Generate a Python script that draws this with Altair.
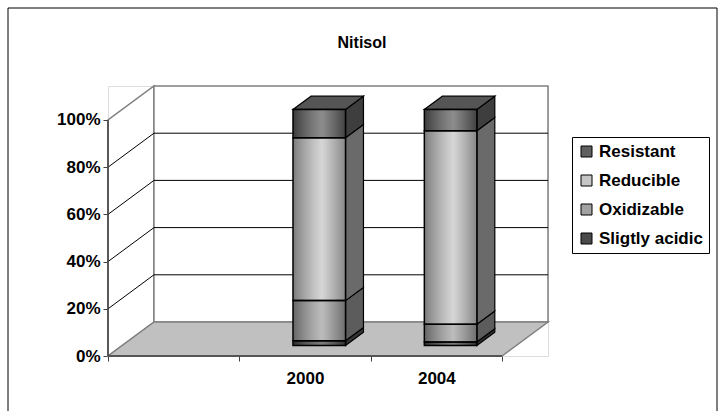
import altair as alt
import pandas as pd

# ---------------- data ----------------
title_text = "Nitisol"
slots = ["", "2000", "2004"]            # category slots on the x axis (first one empty)
years = ["2000", "2004"]
series_bottom_to_top = ["Sligtly acidic", "Oxidizable", "Reducible", "Resistant"]
sligtly_acidic = [2.0, 1.5]
oxidizable = [17.0, 7.5]
reducible = [69.0, 82.0]
resistant = [12.0, 9.0]
y_ticks = [0, 0.2, 0.4, 0.6, 0.8, 1.0]
legend_order = ["Resistant", "Reducible", "Oxidizable", "Sligtly acidic"]

# ---------------- style ----------------
FONT = "Liberation Sans"
front_colors = {"Resistant": "#606060", "Reducible": "#c6c6c6",
                "Oxidizable": "#a2a2a2", "Sligtly acidic": "#4a4a4a"}
side_colors = {"Resistant": "#3e3e3e", "Reducible": "#6a6a6a",
               "Oxidizable": "#5c5c5c", "Sligtly acidic": "#333333"}
top_colors = {"Resistant": "#555555", "Reducible": "#9a9a9a",
              "Oxidizable": "#777777", "Sligtly acidic": "#444444"}
DX, DY = 0.35, 0.144          # depth vector of the 3-D box (x units, y units)
BAR_L, BAR_R = 0.30, 0.70     # bar extent inside a slot
D_FRONT, D_BACK = 0.31, 0.70  # bar depth range
X_MAX = len(slots) + DX
Y_MAX = 1 + DY
W, H = 440, 270

vals = dict(zip(series_bottom_to_top, [sligtly_acidic, oxidizable, reducible, resistant]))

front, side, top = [], [], []
for j, yr in enumerate(years):
    i = slots.index(yr)
    total = sum(vals[s][j] for s in series_bottom_to_top)
    cum = 0.0
    for s in series_bottom_to_top:
        v = vals[s][j] / total
        y0, y1 = cum, cum + v
        cum = y1
        front.append(dict(series=s, x=i + BAR_L + DX * D_FRONT, x2=i + BAR_R + DX * D_FRONT,
                          y=y0 + DY * D_FRONT, y2=y1 + DY * D_FRONT))
        for d in (D_FRONT, D_BACK):
            side.append(dict(face=f"{yr}-{s}", col=side_colors[s], x=i + BAR_R + DX * d,
                             y=y0 + DY * d, y2=y1 + DY * d))
    s = series_bottom_to_top[-1]
    for d in (D_FRONT, D_BACK):
        top.append(dict(face=yr, col=top_colors[s], y=cum + DY * d,
                        x=i + BAR_L + DX * d, x2=i + BAR_R + DX * d))

front_df, side_df, top_df = pd.DataFrame(front), pd.DataFrame(side), pd.DataFrame(top)

n = len(slots)
side_wall = pd.DataFrame([dict(x=0, y=0, y2=1), dict(x=DX, y=DY, y2=1 + DY)])
back_wall = pd.DataFrame([dict(x=DX, x2=X_MAX, y=DY, y2=Y_MAX)])
floor = pd.DataFrame([dict(y=0, x=0, x2=n), dict(y=DY, x=DX, x2=X_MAX)])
grid = []
for v in y_ticks[1:-1]:
    grid.append(dict(x=0, x2=DX, y=v, y2=v + DY))
    grid.append(dict(x=DX, x2=X_MAX, y=v + DY, y2=v + DY))
grid_df = pd.DataFrame(grid)
edges_df = pd.DataFrame([dict(x=0, x2=0, y=0, y2=1), dict(x=0, x2=n, y=0, y2=0)])

# ---------------- scales / axes ----------------
xs = alt.Scale(domain=[0, X_MAX], nice=False, zero=False)
ys = alt.Scale(domain=[0, Y_MAX], nice=False, zero=False)
label_expr = " : ".join(f"datum.value == {k} ? '{lab}'" for k, lab in enumerate(slots) if lab) + " : ''"
x_axis = alt.Axis(values=list(range(n + 1)), domain=False, grid=False, tickSize=5,
                  tickColor="#404040", tickWidth=1, labelExpr=label_expr,
                  labelOffset=W / X_MAX / 2, labelFlush=False, labelOverlap=False,
                  labelFont=FONT, labelFontSize=17, labelFontWeight="bold",
                  labelColor="black", labelPadding=9, title=None)
y_axis = alt.Axis(values=y_ticks, format=".0%", domain=False, grid=False, tickSize=5,
                  tickColor="#404040", tickWidth=1, labelFont=FONT, labelFontSize=17,
                  labelFontWeight="bold", labelColor="black", labelPadding=3, title=None)


def X(f="x"):
    return alt.X(f"{f}:Q", scale=xs, axis=x_axis)


def Y(f="y"):
    return alt.Y(f"{f}:Q", scale=ys, axis=y_axis, stack=None)


side_wall_l = alt.Chart(side_wall).mark_area(fill="white", stroke="#808080", strokeWidth=1.5).encode(
    x=X(), y=Y(), y2="y2:Q")
back_wall_l = alt.Chart(back_wall).mark_rect(fill="white", stroke="#808080", strokeWidth=1.5).encode(
    x=X(), x2="x2:Q", y=Y(), y2="y2:Q")
floor_l = alt.Chart(floor).mark_area(orient="horizontal", fill="#c0c0c0", stroke="#808080",
                                     strokeWidth=1.5).encode(
    y=Y(), x=alt.X("x:Q", scale=xs, axis=x_axis, stack=None), x2="x2:Q")
grid_l = alt.Chart(grid_df).mark_rule(color="black", strokeWidth=1).encode(
    x=X(), x2="x2:Q", y=Y(), y2="y2:Q")
edges_l = alt.Chart(edges_df).mark_rule(color="#404040", strokeWidth=1.5).encode(
    x=X(), x2="x2:Q", y=Y(), y2="y2:Q")

side_l = alt.Chart(side_df).mark_area(stroke="black", strokeWidth=1.2).encode(
    x=X(), y=Y(), y2="y2:Q", detail="face:N", fill=alt.Fill("col:N", scale=None))
top_l = alt.Chart(top_df).mark_area(orient="horizontal", stroke="black", strokeWidth=1.2).encode(
    y=Y(), x=alt.X("x:Q", scale=xs, axis=x_axis, stack=None), x2="x2:Q", detail="face:N",
    fill=alt.Fill("col:N", scale=None))

front_l = alt.Chart(front_df).mark_rect().encode(
    x=X(), x2="x2:Q", y=Y(), y2="y2:Q",
    color=alt.Color("series:N",
                    scale=alt.Scale(domain=legend_order,
                                    range=[front_colors[s] for s in legend_order]),
                    legend=alt.Legend(orient="none", legendX=464, legendY=51, title=None,
                                      symbolType="square", symbolSize=121,
                                      symbolStrokeColor="black", symbolStrokeWidth=1,
                                      labelFont=FONT, labelFontSize=17, labelFontWeight="bold",
                                      labelColor="black", labelOffset=4, rowPadding=11,
                                      padding=6, strokeColor="black", fillColor="white",
                                      cornerRadius=0)))
shade = {"gradient": "linear", "x1": 0, "x2": 1, "y1": 0, "y2": 0,
         "stops": [{"offset": 0, "color": "rgba(0,0,0,0.38)"},
                   {"offset": 0.55, "color": "rgba(255,255,255,0.28)"},
                   {"offset": 1, "color": "rgba(0,0,0,0.32)"}]}
shade_l = alt.Chart(front_df).mark_rect(fill=shade, stroke="black", strokeWidth=1.5).encode(
    x=X(), x2="x2:Q", y=Y(), y2="y2:Q")

frame_l = alt.Chart(pd.DataFrame({"k": [0]})).mark_rect(
    fillOpacity=0, stroke="black", strokeWidth=1).encode(
    x=alt.value(-100), x2=alt.value(609), y=alt.value(-78), y2=alt.value(340))

title_l = alt.Chart(pd.DataFrame({"t": [title_text]})).mark_text(
    font=FONT, fontSize=16, fontWeight="bold", color="black", align="center",
    baseline="alphabetic").encode(x=alt.value(W / 2 + 34), y=alt.value(-38), text="t:N")

chart = alt.layer(
    side_wall_l, back_wall_l, floor_l, grid_l, edges_l, side_l, top_l, front_l, shade_l,
    frame_l, title_l
).properties(
    width=W, height=H,
    autosize=alt.AutoSizeParams(type="none"),
    padding={"left": 108, "top": 86, "right": 176, "bottom": 55},
).configure_view(stroke=None).configure(background="white")

chart.save("out.html", embed_options={"renderer": "svg", "actions": False})
